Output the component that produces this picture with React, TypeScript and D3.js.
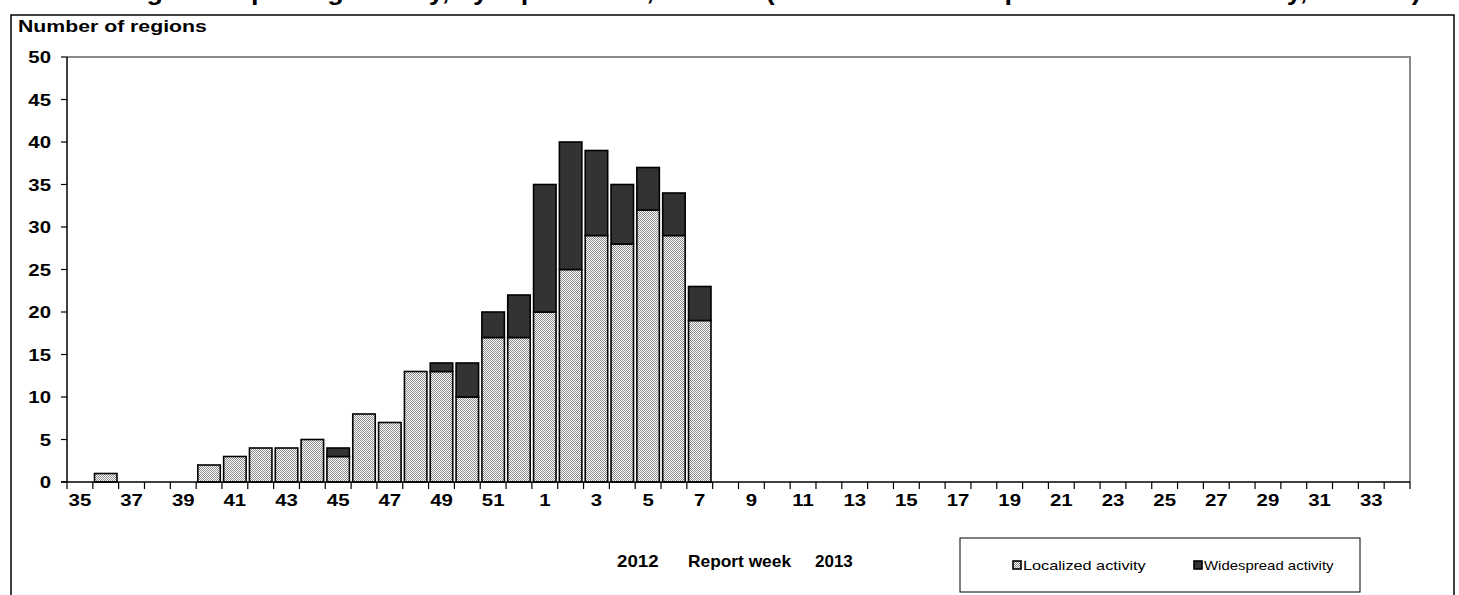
import React from "react";
import * as d3 from "d3";

const weeks: string[] = [
  "35","36","37","38","39","40","41","42","43","44","45","46","47","48","49","50","51","52",
  "1","2","3","4","5","6","7","8","9","10","11","12","13","14","15","16","17","18","19","20",
  "21","22","23","24","25","26","27","28","29","30","31","32","33","34",
];
const localized: number[] = [
  0,1,0,0,0,2,3,4,4,5,3,8,7,13,13,10,17,17,
  20,25,29,28,32,29,19,
];
const widespread: number[] = [
  0,0,0,0,0,0,0,0,0,0,1,0,0,0,1,4,3,5,
  15,15,10,7,5,5,4,
];
const yTicks: number[] = [0,5,10,15,20,25,30,35,40,45,50];
const seriesNames: string[] = ["Localized activity", "Widespread activity"];

const W = 1459, H = 595;
const FONT = "'Liberation Sans', Arial, sans-serif";

function SText(props: { x: number; y: number; sx?: number; size?: number; bold?: boolean; anchor?: string; children: React.ReactNode }) {
  const { x, y, sx = 1.2, size = 17, bold = true, anchor = "start", children } = props;
  return (
    <text transform={`translate(${x},${y}) scale(${sx},1)`} textAnchor={anchor as any} fontSize={size} fontWeight={bold ? "bold" : "normal"} fill="#000">
      {children}
    </text>
  );
}

export default function App() {
  const left = 67, right = 1410, top = 57, bottom = 482;
  const x = d3.scaleBand<string>().domain(weeks).range([left, right]).paddingInner(0.13).paddingOuter(0.065);
  const y = d3.scaleLinear().domain([0, 50]).range([bottom, top]);
  const data = weeks.map((w, i) => ({ w, loc: localized[i] ?? 0, wid: widespread[i] ?? 0 }));
  const boundaries = d3.range(weeks.length + 1).map((i) => left + (right - left) * i / weeks.length);

  return (
    <svg width={W} height={H} style={{ position: "absolute", left: 0, top: 0, background: "#fff" }} fontFamily={FONT}>
      <defs>
        <pattern id="chk" width="2" height="2" patternUnits="userSpaceOnUse">
          <rect width="2" height="2" fill="#ffffff" />
          <rect x="0" y="0" width="1" height="1" fill="#8c8c8c" />
          <rect x="1" y="1" width="1" height="1" fill="#8c8c8c" />
        </pattern>
      </defs>
      <rect width={W} height={H} fill="#fff" />
      {/* title (cut off at the top edge, as in the reference) */}
      <SText x={700} y={0} size={24} sx={1.12} anchor="middle">
        Number of regions reporting activity, by report week, 2012/13 (localized or widespread influenza activity, Canada)
      </SText>
      {/* outer frame */}
      <path d={`M11,${H + 2} V15 H1454 V${H + 2}`} fill="none" stroke="#000" strokeWidth={1.5} />
      <SText x={18} y={32} sx={1.25}>Number of regions</SText>

      {/* plot frame top/right */}
      <path d={`M${left},${top} H${right} V${bottom}`} fill="none" stroke="#8a8a8a" strokeWidth={2} />

      {/* bars */}
      {data.map((d) => {
        const bx = x(d.w)!;
        const bw = x.bandwidth();
        return (
          <g key={d.w}>
            {d.loc > 0 && (
              <rect x={bx} y={y(d.loc)} width={bw} height={y(0) - y(d.loc)} fill="url(#chk)" stroke="#000" strokeWidth={1.6} />
            )}
            {d.wid > 0 && (
              <rect x={bx} y={y(d.loc + d.wid)} width={bw} height={y(d.loc) - y(d.loc + d.wid)} fill="#333333" stroke="#000" strokeWidth={1.6} />
            )}
          </g>
        );
      })}

      {/* y axis */}
      <line x1={left} x2={left} y1={top} y2={bottom} stroke="#000" strokeWidth={1.5} />
      {yTicks.map((t) => (
        <g key={t}>
          <line x1={left - 6} x2={left} y1={y(t)} y2={y(t)} stroke="#000" strokeWidth={1.2} />
          <SText x={51} y={y(t) + 6} anchor="end">{t}</SText>
        </g>
      ))}

      {/* x axis */}
      <line x1={left - 6} x2={right} y1={bottom} y2={bottom} stroke="#000" strokeWidth={1.5} />
      {boundaries.map((bx, i) => (
        <line key={i} x1={bx} x2={bx} y1={bottom} y2={bottom + 7} stroke="#000" strokeWidth={1.2} />
      ))}
      {weeks.map((w, i) =>
        i % 2 === 0 ? (
          <SText key={w} x={x(w)! + x.bandwidth() / 2} y={bottom + 24} anchor="middle">{w}</SText>
        ) : null
      )}

      {/* x title */}
      <SText x={617} y={567} sx={1.1}>2012</SText>
      <SText x={688} y={567} sx={1.02}>Report week</SText>
      <SText x={815} y={567} sx={1.0}>2013</SText>

      {/* legend */}
      <rect x={960} y={538} width={400} height={54} fill="#fff" stroke="#000" strokeWidth={1} />
      <rect x={1013} y={561} width={8} height={8} fill="url(#chk)" stroke="#000" strokeWidth={1.6} />
      <SText x={1023} y={570} size={13} sx={1.25} bold={false}>{seriesNames[0]}</SText>
      <rect x={1194} y={561} width={8} height={8} fill="#333333" stroke="#000" strokeWidth={1.6} />
      <SText x={1204} y={570} size={13} sx={1.15} bold={false}>{seriesNames[1]}</SText>
    </svg>
  );
}
